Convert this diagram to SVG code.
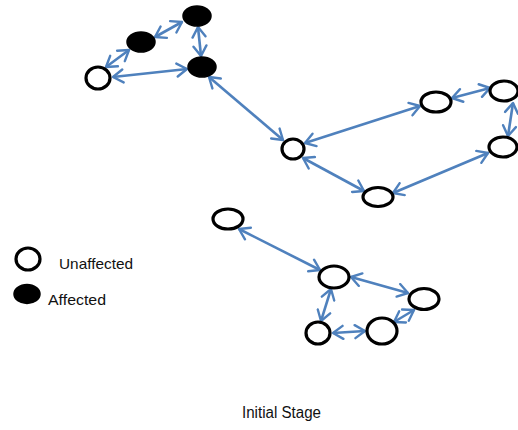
<svg xmlns="http://www.w3.org/2000/svg" width="518" height="430" viewBox="0 0 518 430">
<style>
.u{fill:#fff;stroke:#000;stroke-width:3.2}
.a{fill:#000;stroke:#000;stroke-width:1.5}
.c line{stroke:#4F81BD;stroke-width:2.6;fill:none;marker-start:url(#ah);marker-end:url(#ah)}
.t{font-family:"Liberation Sans",Arial,sans-serif;fill:#111}
</style>
<defs>
<marker id="ah" markerUnits="userSpaceOnUse" markerWidth="16" markerHeight="16" refX="12" refY="8" orient="auto-start-reverse" viewBox="0 0 16 16">
<path d="M2,1.5 L12,8 L2,14.5" fill="none" stroke="#4F81BD" stroke-width="2.4" stroke-linecap="round" stroke-linejoin="round"/>
</marker>
</defs>
<rect width="518" height="430" fill="#fff"/>
<g id="connectors" class="c">
<line x1="106" y1="67" x2="129" y2="50"/>
<line x1="155" y1="37" x2="182" y2="22"/>
<line x1="198" y1="27" x2="201" y2="56"/>
<line x1="113" y1="77" x2="187" y2="69"/>
<line x1="209" y1="77" x2="283" y2="140"/>
<line x1="305" y1="143" x2="420" y2="106"/>
<line x1="452" y1="98" x2="490" y2="88"/>
<line x1="513" y1="103" x2="508" y2="136"/>
<line x1="488" y1="153" x2="393" y2="193"/>
<line x1="303" y1="158" x2="364" y2="191"/>
<line x1="239" y1="229" x2="320" y2="270"/>
<line x1="351" y1="277" x2="408" y2="293"/>
<line x1="331" y1="289" x2="321" y2="321"/>
<line x1="333" y1="333" x2="365" y2="331"/>
<line x1="414" y1="310" x2="394" y2="322"/>
</g>
<g id="n-a"><ellipse class="u" cx="98" cy="78" rx="12" ry="11"/></g>
<g id="n-b"><ellipse class="a" cx="141" cy="42" rx="14" ry="10"/></g>
<g id="n-c"><ellipse class="a" cx="197" cy="16" rx="14" ry="10"/></g>
<g id="n-d"><ellipse class="a" cx="202" cy="67" rx="14" ry="10"/></g>
<g id="n-e"><ellipse class="u" cx="293" cy="149" rx="11" ry="10"/></g>
<g id="n-f"><ellipse class="u" cx="436" cy="102" rx="15" ry="10"/></g>
<g id="n-g"><ellipse class="u" cx="504" cy="91" rx="14" ry="10"/></g>
<g id="n-h"><ellipse class="u" cx="503" cy="147" rx="14" ry="10"/></g>
<g id="n-i"><ellipse class="u" cx="378" cy="197" rx="15" ry="9.5"/></g>
<g id="n-j"><ellipse class="u" cx="228" cy="219" rx="15" ry="10"/></g>
<g id="n-k"><ellipse class="u" cx="334" cy="277" rx="15" ry="11"/></g>
<g id="n-l"><ellipse class="u" cx="424" cy="299" rx="15" ry="10.5"/></g>
<g id="n-m"><ellipse class="u" cx="382" cy="331" rx="15" ry="13"/></g>
<g id="n-n"><ellipse class="u" cx="318" cy="333" rx="12" ry="11"/></g>
<g id="legend">
<ellipse class="u" cx="28" cy="259" rx="12" ry="11"/>
<ellipse class="a" cx="27" cy="294" rx="13" ry="9.5"/>
<text class="t" x="59" y="269" font-size="14.5" textLength="74" lengthAdjust="spacingAndGlyphs">Unaffected</text>
<text class="t" x="48" y="305" font-size="14.5" textLength="58" lengthAdjust="spacingAndGlyphs">Affected</text>
</g>
<text class="t" x="242" y="418" font-size="16" textLength="79" lengthAdjust="spacingAndGlyphs">Initial Stage</text>
</svg>
